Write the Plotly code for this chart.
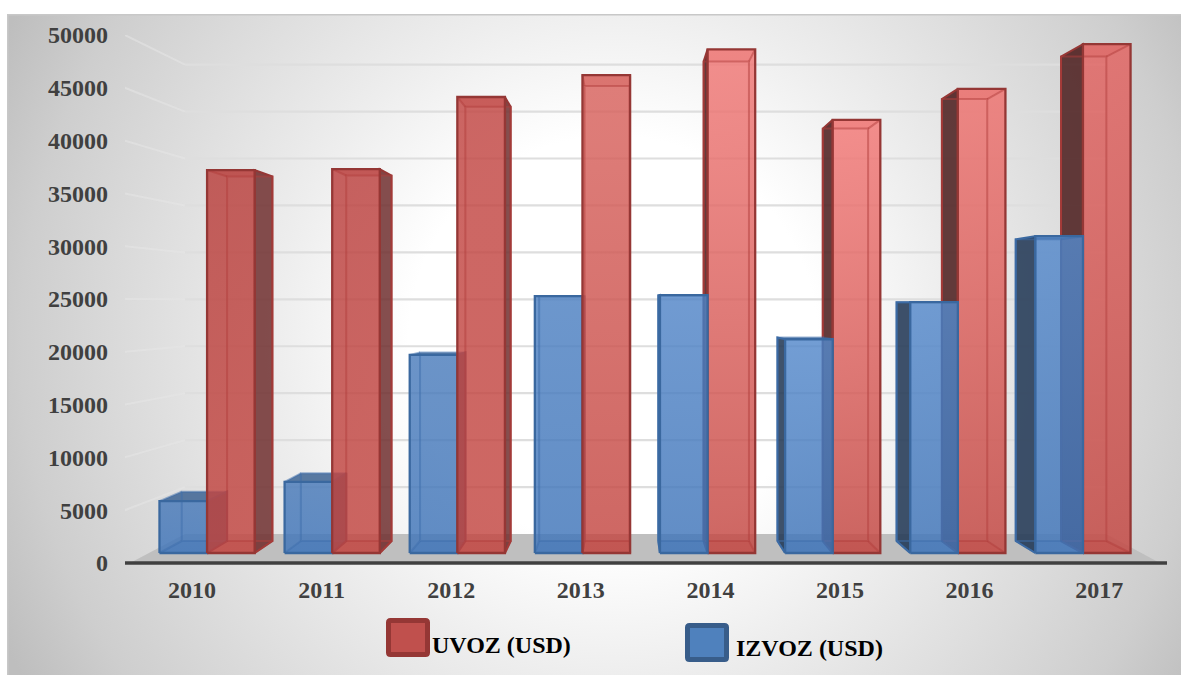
import base64
import plotly.graph_objects as go

YEARS = ["2010", "2011", "2012", "2013", "2014", "2015", "2016", "2017"]
UVOZ = [37700, 37800, 44900, 47050, 49600, 42650, 45700, 50100]
IZVOZ = [5100, 7000, 19500, 25300, 25400, 21050, 24700, 31200]
Y_TICKS = [0, 5000, 10000, 15000, 20000, 25000, 30000, 35000, 40000, 45000, 50000]

RED_TOP = [(198, 98, 96), (200, 100, 98), (205, 104, 102), (224, 128, 124),
           (244, 146, 144), (246, 146, 144), (242, 140, 138), (232, 128, 126)]
RED_BOT = (206, 104, 100)
BLUE_TOP = [(106, 146, 198), (106, 146, 198), (108, 148, 200), (110, 152, 205),
            (114, 156, 210), (116, 158, 212), (116, 158, 212), (116, 158, 212)]
BLUE_BOT = (98, 142, 198)

W, H = 1181, 675
L, R, T, B = 125, 1167, 35, 563
U0, UPX = 192.0, 129.6
VPX = (B - T) / 50000.0
FRONT_ALPHA = 0.82


def upx(px):
    return (px - U0) / UPX


CU = upx(625)
CV = (B - 302) / VPX
S_F, S_B = 0.9617, 0.9157
S_WALL = 0.889
PITCH, START, BW = 1.0039, -0.012, 0.382


def proj(u, v, s):
    return CU + s * (u - CU), CV + s * (v - CV)


def poly(points, close=True):
    pts = [proj(*p) for p in points]
    if close:
        pts.append(pts[0])
    return [p[0] for p in pts], [p[1] for p in pts]


def px(x):
    return (x - L) / (R - L)


def py(y):
    return (B - y) / (B - T)


def glass(c, a=FRONT_ALPHA):
    """Colour that shows as c on white when painted with opacity a."""
    r, g, b = [max(0, round((v - (1 - a) * 255) / a)) for v in c]
    return f"rgba({r},{g},{b},{a})"


fig = go.Figure()


def face(points, fill=None, line="rgba(0,0,0,0)", width=2, grad=None):
    x, y = poly(points)
    kw = dict(x=x, y=y, mode="lines", fill="toself", hoverinfo="skip", showlegend=False,
              line=dict(color=line, width=width), cliponaxis=False)
    if grad is not None:
        kw["fillgradient"] = dict(type="vertical", colorscale=[[0, grad[0]], [1, grad[1]]])
    else:
        kw["fillcolor"] = fill or "rgba(0,0,0,0)"
    fig.add_trace(go.Scatter(**kw))


def stroke(points, color, width):
    x, y = poly(points, close=False)
    fig.add_trace(go.Scatter(x=x, y=y, mode="lines", hoverinfo="skip", showlegend=False,
                             cliponaxis=False, line=dict(color=color, width=width)))


def box(u0, u1, v, st, left_half):
    a, b = S_F, S_B
    near, far = (u1, u0) if left_half else (u0, u1)
    face([(u0, 0, b), (u1, 0, b), (u1, v, b), (u0, v, b)], st["back"])
    face([(u0, 0, a), (u1, 0, a), (u1, 0, b), (u0, 0, b)], st["bottom"])
    face([(far, 0, a), (far, 0, b), (far, v, b), (far, v, a)], st["hidden"])
    face([(u0, v, a), (u1, v, a), (u1, v, b), (u0, v, b)], st["top"])
    face([(near, 0, a), (near, 0, b), (near, v, b), (near, v, a)], st["side"], st["edge"], 2)
    face([(u0, 0, a), (u1, 0, a), (u1, v, a), (u0, v, a)], None, "rgba(0,0,0,0)", 0, st["grad"])
    # edges seen through the glass front
    stroke([(u0, 0, b), (u1, 0, b), (u1, v, b), (u0, v, b), (u0, 0, b)], st["inner"], 2)
    stroke([(far, 0, a), (far, 0, b)], st["inner"], 2)
    stroke([(near, 0, a), (near, 0, b)], st["inner"], 2)
    stroke([(far, v, a), (far, v, b)], st["inner"], 2)
    stroke([(u0, 0, a), (u1, 0, a), (u1, v, a), (u0, v, a), (u0, 0, a)], st["edge"], 2.3)


fl0, fl1 = upx(130), upx(1160)
bk0, bk1 = (185 - 625) / S_WALL / UPX + CU, (1106 - 625) / S_WALL / UPX + CU
face([(fl0, 0, 1.0), (fl1, 0, 1.0), (bk1, 0, S_WALL), (bk0, 0, S_WALL)], "#bfbfbf")

for val in Y_TICKS[1:]:
    stroke([(fl0 - 0.04, val, 1.0), (bk0, val, S_WALL)], "rgba(230,230,230,0.55)", 2)
    stroke([(bk0, val, S_WALL), (bk1, val, S_WALL)], "#dedede", 2.2)


def styles(i):
    left = i < 4
    red = dict(
        edge="#953735", inner="rgba(178,62,60,0.5)",
        back="rgba(192,80,77,0.04)", bottom="rgba(192,80,77,0.30)",
        hidden="rgba(192,80,77,0.05)",
        side="rgba(112,48,48,0.85)" if left else "rgba(78,34,34,0.88)",
        top="rgba(180,62,60,0.3)",
        grad=(glass(RED_BOT), glass(RED_TOP[i])),
    )
    blue = dict(
        edge="#3a689f", inner="rgba(62,110,172,0.5)",
        back="rgba(79,129,189,0.04)", bottom="rgba(79,129,189,0.35)",
        hidden="rgba(79,129,189,0.03)",
        side="rgba(52,84,124,0.9)" if left else "rgba(36,58,86,0.88)",
        top="rgba(52,92,142,0.8)",
        grad=(glass(BLUE_BOT), glass(BLUE_TOP[i])),
    )
    return red, blue


for i in [0, 1, 2, 3, 7, 6, 5, 4]:
    c = START + PITCH * i
    red, blue = styles(i)
    if i < 4:
        box(c - BW, c, IZVOZ[i], blue, True)
        box(c, c + BW, UVOZ[i], red, True)
    else:
        box(c, c + BW, UVOZ[i], red, False)
        box(c - BW, c, IZVOZ[i], blue, False)

svg = (
    '<svg xmlns="http://www.w3.org/2000/svg" width="1174" height="661" preserveAspectRatio="none">'
    '<defs><radialGradient id="g" gradientUnits="userSpaceOnUse" cx="606" cy="326" r="680">'
    '<stop offset="0.30" stop-color="#ffffff"/><stop offset="0.49" stop-color="#eeeeee"/>'
    '<stop offset="0.87" stop-color="#cecece"/><stop offset="1" stop-color="#bebebe"/>'
    '</radialGradient></defs>'
    '<rect width="1174" height="661" fill="url(#g)"/>'
    '<rect x="0" y="0" width="1174" height="1.5" fill="#c8c8c8"/>'
    '<rect x="0" y="0" width="1.5" height="661" fill="#c8c8c8"/></svg>'
)
bg = "data:image/svg+xml;base64," + base64.b64encode(svg.encode()).decode()

TXT = dict(family="Liberation Serif", size=24, color="#404040", weight=700)
LEG = dict(family="Liberation Serif", size=24, color="#000000", weight=700)


def swatch(x0, y0, x1, y1, fill, line):
    r = 2.0
    p = (f"M {px(x0 + r)} {py(y0)} L {px(x1 - r)} {py(y0)} Q {px(x1)} {py(y0)} {px(x1)} {py(y0 + r)} "
         f"L {px(x1)} {py(y1 - r)} Q {px(x1)} {py(y1)} {px(x1 - r)} {py(y1)} "
         f"L {px(x0 + r)} {py(y1)} Q {px(x0)} {py(y1)} {px(x0)} {py(y1 - r)} "
         f"L {px(x0)} {py(y0 + r)} Q {px(x0)} {py(y0)} {px(x0 + r)} {py(y0)} Z")
    return dict(type="path", path=p, xref="paper", yref="paper", layer="above",
                fillcolor=fill, line=dict(color=line, width=5))


shapes = [
    swatch(388.5, 620.5, 427.5, 654.5, "#c0504d", "#953735"),
    swatch(687.5, 625.5, 726.5, 659.5, "#4f81bd", "#385d8a"),
    dict(type="line", xref="paper", yref="paper", x0=0, x1=1, y0=0, y1=0, layer="above",
         line=dict(color="#404040", width=3.6)),
]
annotations = [
    dict(text="UVOZ (USD)", xref="paper", yref="paper", x=px(430), y=py(645), xanchor="left",
         yanchor="middle", showarrow=False, font=LEG),
    dict(text="IZVOZ (USD)", xref="paper", yref="paper", x=px(734), y=py(648), xanchor="left",
         yanchor="middle", showarrow=False, font=LEG),
]

fig.update_layout(
    width=W, height=H,
    margin=dict(l=L, r=W - R, t=T, b=H - B, pad=0),
    paper_bgcolor="#ffffff", plot_bgcolor="rgba(0,0,0,0)",
    showlegend=False,
    shapes=shapes, annotations=annotations,
    images=[dict(source=bg, xref="paper", yref="paper", x=px(7), y=py(14),
                 sizex=px(1181) - px(7), sizey=py(14) - py(675), xanchor="left", yanchor="top",
                 sizing="stretch", layer="below")],
    xaxis=dict(range=[upx(L), upx(R)], tickvals=list(range(8)), ticktext=YEARS, tickfont=TXT,
               showgrid=False, zeroline=False, showline=False, ticks="", ticklabelstandoff=10),
    yaxis=dict(range=[0, 50000], tickvals=Y_TICKS, tickfont=TXT, showgrid=False, zeroline=False,
               showline=False, ticks="", ticklabelstandoff=16, tickformat="d"),
)

fig.write_html("out.html", config={"displayModeBar": False},
               post_script="document.body.style.margin='0';document.body.style.overflow='hidden';")
